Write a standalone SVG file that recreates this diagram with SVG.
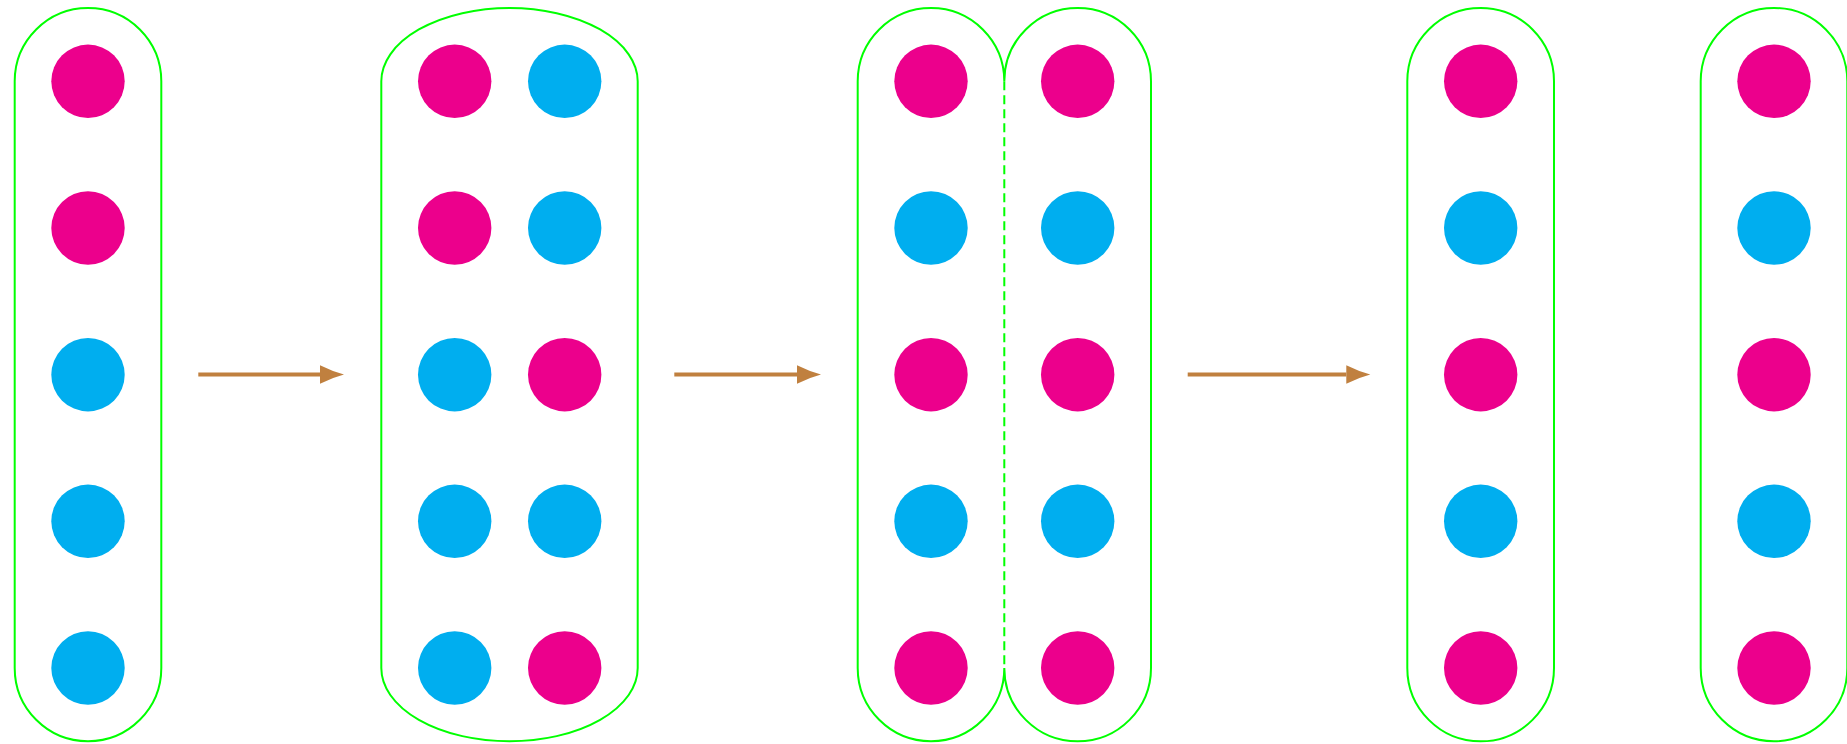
<svg xmlns="http://www.w3.org/2000/svg" width="1847" height="744" viewBox="0 0 1847 744">
  <style>
    .cap { fill: none; stroke: #00FF00; stroke-width: 2; }
    .dash { fill: none; stroke: #00FF00; stroke-width: 2; stroke-dasharray: 9 5; }
    .p { fill: #EC008C; }
    .b { fill: #00AEEF; }
    .arr { fill: none; stroke: #C0803F; stroke-width: 4; marker-end: url(#ah); }
  </style>
  <defs>
    <marker id="ah" markerUnits="userSpaceOnUse" markerWidth="26" markerHeight="20" refX="0" refY="9.2" orient="auto" overflow="visible">
      <path d="M0,0 Q12,6 24,9.2 Q12,12.4 0,18.4 Z" fill="#C0803F"/>
    </marker>
  </defs>
  <rect width="1847" height="744" fill="#FFFFFF"/>

  <g id="group1">
    <path class="cap" d="M14.7,81.3 A73.3,73.3 0 0 1 161.3,81.3 L161.3,668 A73.3,73.3 0 0 1 14.7,668 Z"/>
    <circle class="p" cx="88" cy="81.3" r="36.7"/>
    <circle class="p" cx="88" cy="228" r="36.7"/>
    <circle class="b" cx="88" cy="374.7" r="36.7"/>
    <circle class="b" cx="88" cy="521.3" r="36.7"/>
    <circle class="b" cx="88" cy="668" r="36.7"/>
  </g>

  <g id="group2">
    <path class="cap" d="M381.3,81.3 A128.2,73.3 0 0 1 637.7,81.3 L637.7,668 A128.2,73.3 0 0 1 381.3,668 Z"/>
    <circle class="p" cx="454.7" cy="81.3" r="36.7"/>
    <circle class="p" cx="454.7" cy="228" r="36.7"/>
    <circle class="b" cx="454.7" cy="374.7" r="36.7"/>
    <circle class="b" cx="454.7" cy="521.3" r="36.7"/>
    <circle class="b" cx="454.7" cy="668" r="36.7"/>
    <circle class="b" cx="564.7" cy="81.3" r="36.7"/>
    <circle class="b" cx="564.7" cy="228" r="36.7"/>
    <circle class="p" cx="564.7" cy="374.7" r="36.7"/>
    <circle class="b" cx="564.7" cy="521.3" r="36.7"/>
    <circle class="p" cx="564.7" cy="668" r="36.7"/>
  </g>

  <g id="group3">
    <path class="cap" d="M857.7,81.3 A73.3,73.3 0 0 1 1004.3,81.3 A73.3,73.3 0 0 1 1151,81.3 L1151,668 A73.3,73.3 0 0 1 1004.3,668 A73.3,73.3 0 0 1 857.7,668 Z"/>
    <line class="dash" x1="1004.3" y1="81.3" x2="1004.3" y2="668"/>
    <circle class="p" cx="931" cy="81.3" r="36.7"/>
    <circle class="b" cx="931" cy="228" r="36.7"/>
    <circle class="p" cx="931" cy="374.7" r="36.7"/>
    <circle class="b" cx="931" cy="521.3" r="36.7"/>
    <circle class="p" cx="931" cy="668" r="36.7"/>
    <circle class="p" cx="1077.7" cy="81.3" r="36.7"/>
    <circle class="b" cx="1077.7" cy="228" r="36.7"/>
    <circle class="p" cx="1077.7" cy="374.7" r="36.7"/>
    <circle class="b" cx="1077.7" cy="521.3" r="36.7"/>
    <circle class="p" cx="1077.7" cy="668" r="36.7"/>
  </g>

  <g id="group4">
    <path class="cap" d="M1407.3,81.3 A73.3,73.3 0 0 1 1554,81.3 L1554,668 A73.3,73.3 0 0 1 1407.3,668 Z"/>
    <circle class="p" cx="1480.7" cy="81.3" r="36.7"/>
    <circle class="b" cx="1480.7" cy="228" r="36.7"/>
    <circle class="p" cx="1480.7" cy="374.7" r="36.7"/>
    <circle class="b" cx="1480.7" cy="521.3" r="36.7"/>
    <circle class="p" cx="1480.7" cy="668" r="36.7"/>
  </g>

  <g id="group5">
    <path class="cap" d="M1700.7,81.3 A73.3,73.3 0 0 1 1847.3,81.3 L1847.3,668 A73.3,73.3 0 0 1 1700.7,668 Z"/>
    <circle class="p" cx="1774" cy="81.3" r="36.7"/>
    <circle class="b" cx="1774" cy="228" r="36.7"/>
    <circle class="p" cx="1774" cy="374.7" r="36.7"/>
    <circle class="b" cx="1774" cy="521.3" r="36.7"/>
    <circle class="p" cx="1774" cy="668" r="36.7"/>
  </g>

  <g id="connectors">
    <line class="arr" x1="198.3" y1="374.5" x2="320" y2="374.5"/>
    <line class="arr" x1="674.3" y1="374.5" x2="797" y2="374.5"/>
    <line class="arr" x1="1187.7" y1="374.5" x2="1346.3" y2="374.5"/>
  </g>
</svg>
